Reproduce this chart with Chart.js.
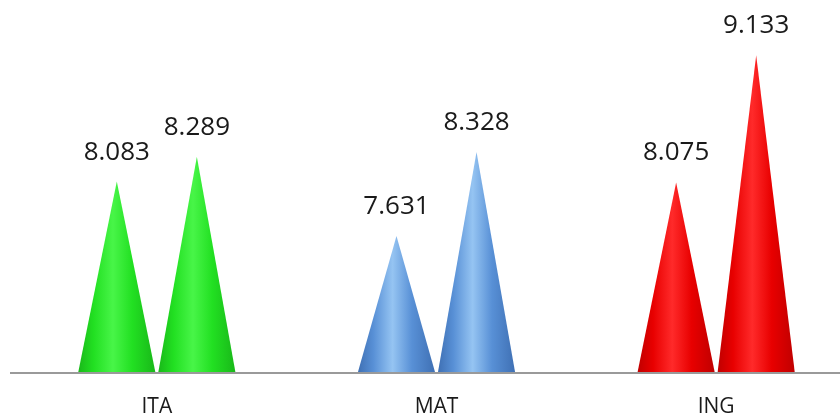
<!DOCTYPE html>
<html>
<head>
<meta charset="UTF-8" />
<title>Coni</title>
<script src="https://cdn.jsdelivr.net/npm/chart.js"></script>
<style>
  html, body { margin: 0; padding: 0; background: #fff; overflow: hidden; }
  #wrap { width: 856px; height: 417px; position: relative; }
</style>
</head>
<body>
<div id="wrap"><canvas id="chart"></canvas></div>
<script>
  const categories = ['ITA', 'MAT', 'ING'];
  const serieA = [8.083, 7.631, 8.075];
  const serieB = [8.289, 8.328, 9.133];
  const valueLabels = [['8.083', '7.631', '8.075'], ['8.289', '8.328', '9.133']];

  // colori per categoria: [bordo, medio, chiaro]
  const palette = [
    ['#19b819', '#22e022', '#48f548'],
    ['#3f70b4', '#5890d6', '#95c4f2'],
    ['#c00000', '#e80000', '#ff2a2a']
  ];

  const conePlugin = {
    id: 'cones',
    afterDatasetsDraw(chart) {
      const ctx = chart.ctx;
      const base = chart.scales.y.getPixelForValue(chart.scales.y.min);
      chart.data.datasets.forEach((ds, di) => {
        const meta = chart.getDatasetMeta(di);
        meta.data.forEach((bar, i) => {
          const half = bar.width / 2;
          const c = palette[i];
          const g = ctx.createLinearGradient(bar.x - half, 0, bar.x + half, 0);
          g.addColorStop(0, c[0]);
          g.addColorStop(0.2, c[1]);
          g.addColorStop(0.45, c[2]);
          g.addColorStop(0.7, c[1]);
          g.addColorStop(1, c[0]);
          ctx.save();
          ctx.beginPath();
          ctx.moveTo(bar.x - half, base);
          ctx.lineTo(bar.x, bar.y);
          ctx.lineTo(bar.x + half, base);
          ctx.closePath();
          ctx.fillStyle = g;
          ctx.fill();
          ctx.restore();

          ctx.save();
          ctx.font = '26px "Open Sans"';
          ctx.fillStyle = '#1a1a1a';
          ctx.textAlign = 'center';
          ctx.textBaseline = 'alphabetic';
          ctx.fillText(valueLabels[di][i], bar.x, bar.y - 22);
          ctx.restore();
        });
      });
      // linea di base
      ctx.save();
      ctx.strokeStyle = '#9a9a9a';
      ctx.lineWidth = 2;
      ctx.beginPath();
      ctx.moveTo(10, base + 1);
      ctx.lineTo(chart.width, base + 1);
      ctx.stroke();
      ctx.restore();
    }
  };

  new Chart(document.getElementById('chart'), {
    type: 'bar',
    data: {
      labels: categories,
      datasets: [
        { data: serieA, backgroundColor: 'rgba(0,0,0,0)', categoryPercentage: 0.5725, barPercentage: 0.9625 },
        { data: serieB, backgroundColor: 'rgba(0,0,0,0)', categoryPercentage: 0.5725, barPercentage: 0.9625 }
      ]
    },
    options: {
      responsive: true,
      maintainAspectRatio: false,
      animation: false,
      layout: { padding: { left: 17, right: 0, top: 11, bottom: 0 } },
      plugins: { legend: { display: false }, tooltip: { enabled: false } },
      scales: {
        y: { display: false, min: 6.5, max: 9.5 },
        x: {
          grid: { display: false, drawTicks: false },
          border: { display: false },
          ticks: { color: '#1a1a1a', font: { family: 'Open Sans', size: 21 }, padding: 22 },
          afterFit(scale) { scale.height = 45; }
        }
      }
    },
    plugins: [conePlugin]
  });
</script>
</body>
</html>
